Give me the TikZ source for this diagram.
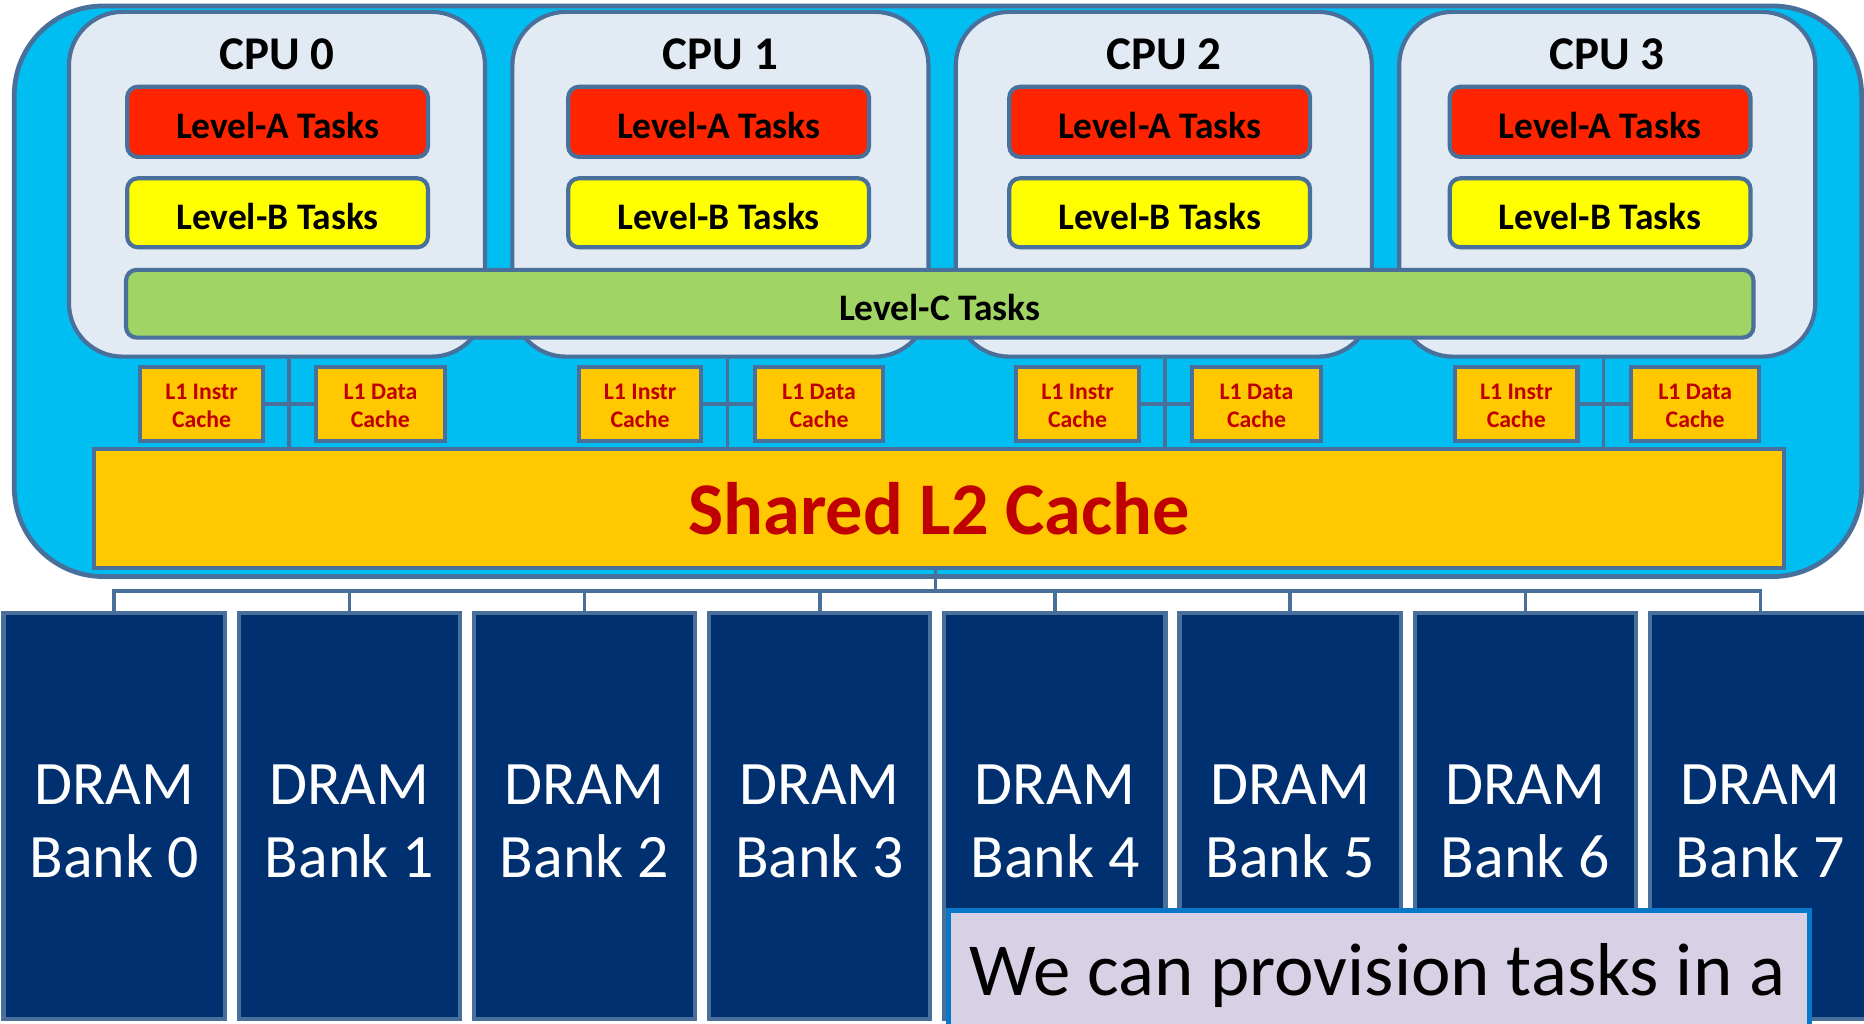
\documentclass[tikz,border=0pt]{standalone}
\usepackage{fontspec}
\setmainfont{Carlito}
\definecolor{bord}{RGB}{72,112,155}
\definecolor{outerfill}{RGB}{0,190,242}
\definecolor{cpufill}{RGB}{226,234,244}
\definecolor{redA}{RGB}{255,36,0}
\definecolor{yellowB}{RGB}{255,255,0}
\definecolor{greenC}{RGB}{160,212,100}
\definecolor{cachefill}{RGB}{255,200,0}
\definecolor{cachetext}{RGB}{192,0,0}
\definecolor{dramfill}{RGB}{0,48,112}
\definecolor{notefill}{RGB}{216,208,228}
\definecolor{notebord}{RGB}{10,120,200}
\begin{document}
\begin{tikzpicture}[x=1pt,y=-1pt,
  outerbox/.style={draw=bord,line width=4pt,fill=outerfill,rounded corners=75pt,inner sep=0pt},
  cpubox/.style={draw=bord,line width=3.5pt,fill=cpufill,rounded corners=45pt,minimum width=350,minimum height=290,inner sep=0pt},
  cpulabel/.style={font=\fontsize{39.5}{44}\selectfont\bfseries,text=black,inner sep=0pt},
  taskbox/.style={draw=bord,line width=3.5pt,rounded corners=9pt,inner sep=0pt,font=\fontsize{31.5}{36}\selectfont\bfseries,text=black,text height=28pt,text depth=0pt},
  taskA/.style={taskbox,fill=redA,minimum width=253,minimum height=59},
  taskB/.style={taskbox,fill=yellowB,minimum width=253,minimum height=58},
  taskC/.style={taskbox,fill=greenC,minimum width=1369,minimum height=57},
  l1box/.style={draw=bord,line width=3.5pt,fill=cachefill,minimum height=62,inner sep=0pt},
  l1text/.style={align=center,text=cachetext,font=\fontsize{20}{23}\selectfont\bfseries,inner sep=0pt},
  l2box/.style={draw=bord,line width=3.5pt,fill=cachefill,minimum width=1422,minimum height=100,inner sep=0pt,text=cachetext,font=\fontsize{62.5}{70}\selectfont\bfseries},
  bankbox/.style={draw=bord,line width=3.5pt,fill=dramfill,minimum width=186,minimum height=341,inner sep=0pt},
  banktext/.style={align=center,text=white,font=\fontsize{52}{62}\selectfont,inner sep=0pt},
  notebox/.style={draw=notebord,line width=4pt,fill=notefill,minimum width=724,minimum height=112,inner sep=0pt},
  notetext/.style={font=\fontsize{63}{70}\selectfont,text=black,inner sep=0pt},
  link/.style={draw=bord,line width=3pt}
]
\useasboundingbox (0,0) rectangle (1568,861);
\clip (0,0) rectangle (1568,861);
\fill[white] (0,0) rectangle (1568,861);

% outer chip
\node[outerbox,minimum width=1554,minimum height=480] (chip) at (789,245) {};

% CPUs with level A/B tasks
\foreach \i/\c/\t in {0/233/233.5,1/606/604.5,2/979/975.5,3/1352/1346}{
  \node[cpubox] (cpu\i) at (\c,155) {};
  \node[cpulabel] (cpulab\i) at (\c,46) {CPU \i};
  \node[taskA] (la\i) at (\t,102.5) {Level-A Tasks};
  \node[taskB] (lb\i) at (\t,179) {Level-B Tasks};
}

% Level-C across all CPUs
\node[taskC] (lc) at (790.5,255.5) {Level-C Tasks};

% shared L2
\node[l2box] (l2) at (790,428) {Shared L2 Cache};

% L1 caches and their links
\foreach \i/\v in {0/243,1/612,2/980,3/1349}{
  \coordinate (v\i) at (\v,340);
  \draw[link] (v\i |- cpu\i.south) -- (v\i |- l2.north);
  \node[l1box,minimum width=103] (li\i) at (\v-73.5,340) {};
  \node[l1box,minimum width=108] (ld\i) at (\v+77,340) {};
  \node[l1text] (lit\i) at (\v-73.5,341.5) {L1 Instr\\Cache};
  \node[l1text] (ldt\i) at (\v+77,341.5) {L1 Data\\Cache};
  \draw[link] (li\i.east) -- (ld\i.west);
}

% DRAM banks
\foreach \i in {0,...,7}{
  \node[bankbox] (bank\i) at ({96+197.85*\i},686.5) {};
  \node[banktext] (banktxt\i) at ({96+197.85*\i},691) {DRAM\\Bank \i};
}

% memory bus
\coordinate (bus) at (787,497);
\draw[link] (l2.south -| bus) -- (bus);
\draw[link] (bank0.north) -- (bank0.north |- bus) -- (bank7.north |- bus) -- (bank7.north);
\foreach \i in {1,...,6}{
  \draw[link] (bank\i.north) -- (bank\i.north |- bus);
}

% callout
\node[notebox] (note) at (1160,822) {};
\node[notetext,anchor=base west] (notetxt) at (815,837) {We can provision tasks in a};
\end{tikzpicture}
\end{document}
